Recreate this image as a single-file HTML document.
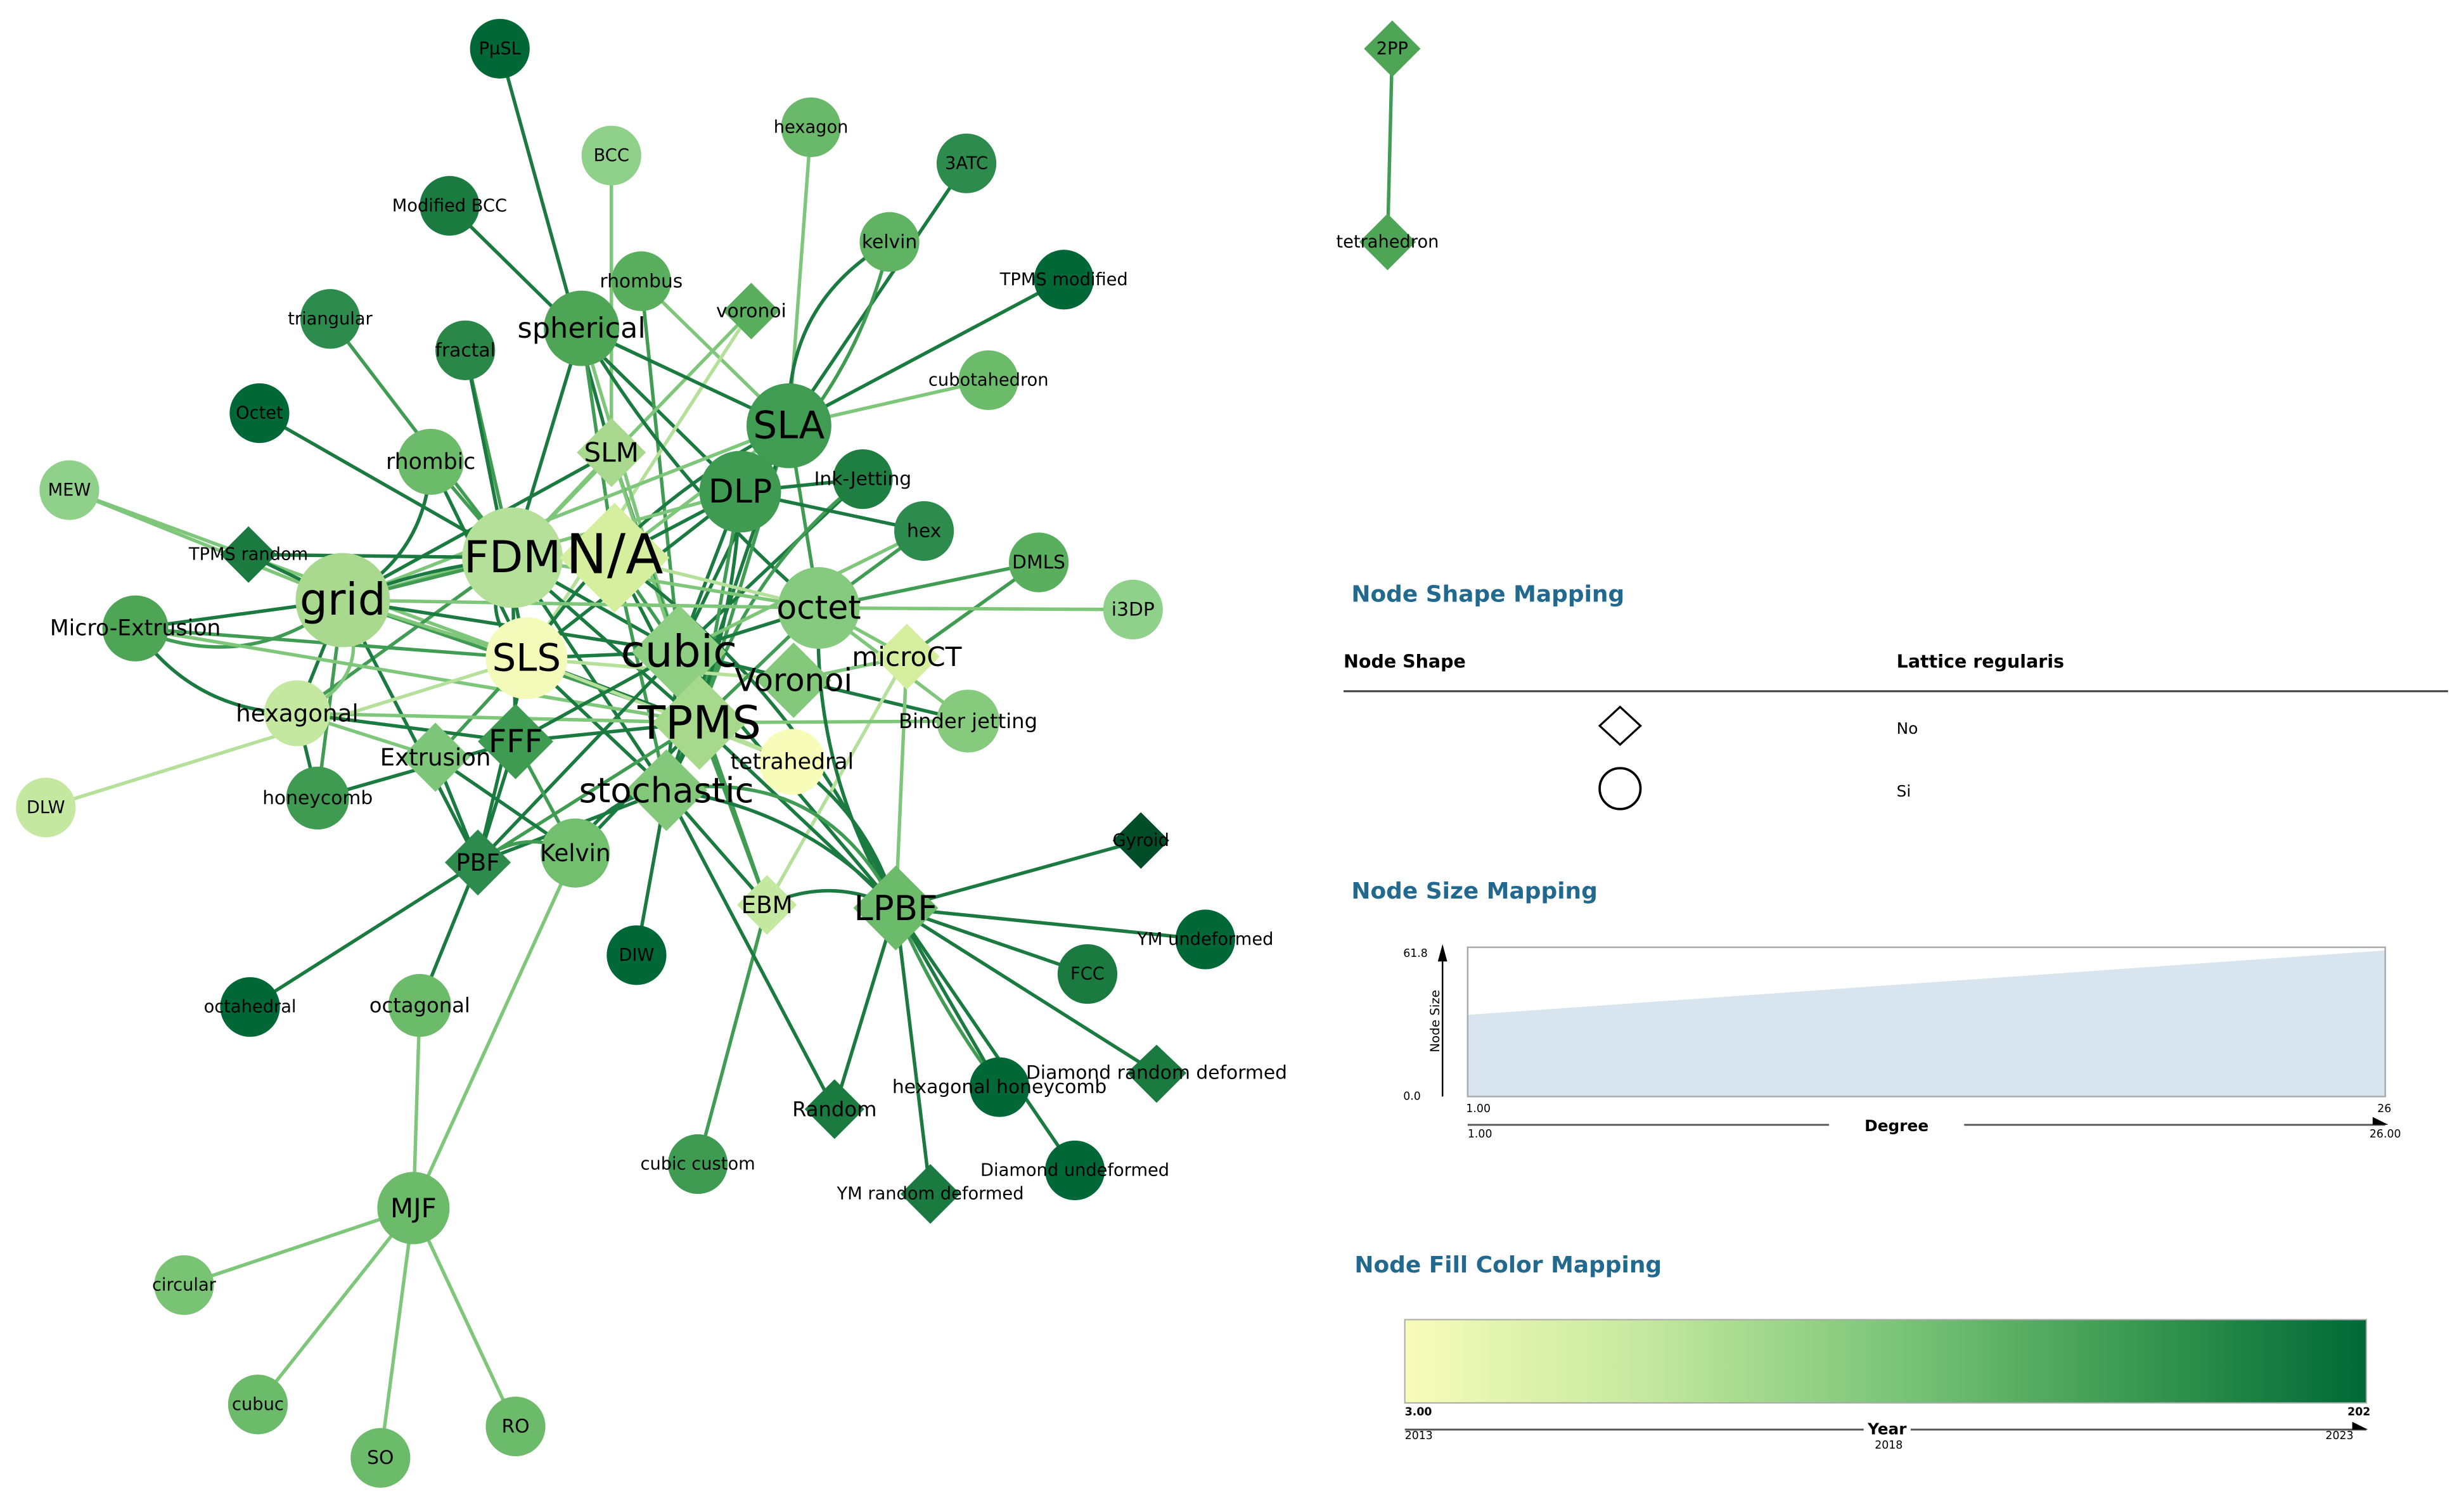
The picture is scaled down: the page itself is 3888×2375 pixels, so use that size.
<!DOCTYPE html>
<html><head><meta charset="utf-8"><style>
html,body{margin:0;padding:0;background:#fff;}
svg{display:block;}
text{font-family:"DejaVu Sans","Liberation Sans",sans-serif;}
.lg{font-family:"DejaVu Sans Condensed","DejaVu Sans","Liberation Sans",sans-serif;}
</style></head><body>
<svg id="s" xmlns="http://www.w3.org/2000/svg" width="3888" height="2375" viewBox="0 0 1568 958">
<rect width="1568" height="958" fill="#fff"/>
<g id="edges" fill="none" stroke-width="2.2" stroke-linecap="round"></g>
<g id="nodes" text-anchor="middle" dominant-baseline="central" fill="#000">
<!-- circles -->
<circle cx="318" cy="31" r="19" fill="#006837"/><text x="318" y="31" font-size="11">PμSL</text>
<circle cx="389" cy="99" r="19" fill="#8fd18a"/><text x="389" y="99" font-size="11">BCC</text>
<circle cx="516" cy="81" r="19" fill="#6ab86a"/><text x="516" y="81" font-size="11">hexagon</text>
<circle cx="615" cy="104" r="19" fill="#2e8b4e"/><text x="615" y="104" font-size="11">3ATC</text>
<circle cx="286" cy="131" r="19" fill="#1a7a40"/><text x="286" y="131" font-size="11">Modified BCC</text>
<circle cx="566" cy="154" r="19" fill="#5fb362"/><text x="566" y="154" font-size="12">kelvin</text>
<circle cx="677" cy="178" r="19" fill="#006837"/><text x="677" y="178" font-size="11">TPMS modified</text>
<circle cx="408" cy="179" r="19" fill="#5aaf5e"/><text x="408" y="179" font-size="12">rhombus</text>
<circle cx="210" cy="203" r="19" fill="#2e8b4e"/><text x="210" y="203" font-size="11">triangular</text>
<circle cx="296" cy="223" r="19" fill="#2a8748"/><text x="296" y="223" font-size="12">fractal</text>
<circle cx="629" cy="242" r="19" fill="#6cbb6a"/><text x="629" y="242" font-size="11">cubotahedron</text>
<circle cx="165" cy="263" r="19" fill="#006837"/><text x="165" y="263" font-size="11">Octet</text>
<circle cx="549" cy="305" r="19" fill="#1f7f43"/><text x="549" y="305" font-size="12">Ink-Jetting</text>
<circle cx="44" cy="312" r="19" fill="#8fd18a"/><text x="44" y="312" font-size="11">MEW</text>
<circle cx="588" cy="338" r="19" fill="#2e8b4e"/><text x="588" y="338" font-size="12">hex</text>
<circle cx="661" cy="358" r="19" fill="#5aaf5e"/><text x="661" y="358" font-size="12">DMLS</text>
<circle cx="721" cy="388" r="19" fill="#8fd18a"/><text x="721" y="388" font-size="12">i3DP</text>
<circle cx="616" cy="459" r="20" fill="#86ca7e"/><text x="616" y="459" font-size="13">Binder jetting</text>
<circle cx="29" cy="514" r="19" fill="#c5e8a0"/><text x="29" y="514" font-size="11">DLW</text>
<circle cx="202" cy="508" r="20" fill="#3e9b51"/><text x="202" y="508" font-size="12">honeycomb</text>
<circle cx="767" cy="598" r="19" fill="#006837"/><text x="767" y="598" font-size="11">YM undeformed</text>
<circle cx="405" cy="608" r="19" fill="#006837"/><text x="405" y="608" font-size="11">DIW</text>
<circle cx="692" cy="620" r="19" fill="#1a7a40"/><text x="692" y="620" font-size="11">FCC</text>
<circle cx="159" cy="641" r="19" fill="#006837"/><text x="159" y="641" font-size="11">octahedral</text>
<circle cx="267" cy="640" r="20" fill="#6cbb6a"/><text x="267" y="640" font-size="13">octagonal</text>
<circle cx="636" cy="692" r="19" fill="#006837"/>
<circle cx="444" cy="741" r="19" fill="#3e9b51"/><text x="444" y="741" font-size="11">cubic custom</text>
<circle cx="684" cy="745" r="19" fill="#006837"/><text x="684" y="745" font-size="11">Diamond undeformed</text>
<circle cx="117" cy="818" r="19" fill="#79c474"/><text x="117" y="818" font-size="11">circular</text>
<circle cx="164" cy="894" r="19" fill="#6cbb6a"/><text x="164" y="894" font-size="11">cubuc</text>
<circle cx="328" cy="908" r="19" fill="#6cbb6a"/><text x="328" y="908" font-size="12">RO</text>
<circle cx="242" cy="928" r="19" fill="#6cbb6a"/><text x="242" y="928" font-size="12">SO</text>
<!-- small diamonds -->
<polygon points="478,180 496,198 478,216 460,198" fill="#5aaf5e"/><text x="478" y="198" font-size="12">voronoi</text>
<polygon points="158,335 176,353 158,371 140,353" fill="#1a7a40"/><text x="158" y="353" font-size="11">TPMS random</text>
<polygon points="726,517 744,535 726,553 708,535" fill="#004d29"/><text x="726" y="535" font-size="11">Gyroid</text>
<polygon points="736,665 755,683 736,702 717,683" fill="#1a7a40"/><text x="736" y="683" font-size="12">Diamond random deformed</text>
<text x="636" y="692" font-size="12">hexagonal honeycomb</text>
<polygon points="531,687 550,706 531,725 512,706" fill="#1a7a40"/><text x="531" y="706" font-size="13">Random</text>
<polygon points="592,741 611,760 592,779 573,760" fill="#1a7a40"/><text x="592" y="760" font-size="11">YM random deformed</text>
<polygon points="886,13 904,31 886,49 868,31" fill="#4ea555"/><text x="886" y="31" font-size="11">2PP</text>
<polygon points="883,136 901,154 883,172 865,154" fill="#4ea555"/><text x="883" y="154" font-size="11">tetrahedron</text>
<!-- mid/large -->
<circle cx="370" cy="209" r="24" fill="#4ea555"/><text x="370" y="209" font-size="18">spherical</text>
<circle cx="274" cy="294" r="21" fill="#6cbb6a"/><text x="274" y="294" font-size="14">rhombic</text>
<circle cx="86" cy="400" r="21" fill="#4ea555"/><text x="86" y="400" font-size="14">Micro-Extrusion</text>
<circle cx="502" cy="271" r="27" fill="#3f9c52"/><text x="502" y="271" font-size="24">SLA</text>
<polygon points="389,266 411,288 389,310 367,288" fill="#a8d98e"/><text x="389" y="288" font-size="17">SLM</text>
<circle cx="471" cy="313" r="26" fill="#3e9b51"/><text x="471" y="313" font-size="21">DLP</text>
<circle cx="521" cy="387" r="26" fill="#85ca7e"/><text x="521" y="387" font-size="21">octet</text>
<circle cx="189" cy="454" r="21" fill="#c5e8a0"/><text x="189" y="454" font-size="15">hexagonal</text>
<polygon points="277,460 299,482 277,504 255,482" fill="#7ec67a"/><text x="277" y="482" font-size="15">Extrusion</text>
<polygon points="304,528 325,549 304,570 283,549" fill="#2e8b4e"/><text x="304" y="549" font-size="15">PBF</text>
<circle cx="366" cy="543" r="22" fill="#72bf6f"/><text x="366" y="543" font-size="15">Kelvin</text>
<circle cx="263" cy="769" r="23" fill="#6cbb6a"/><text x="263" y="769" font-size="17">MJF</text>
<polygon points="488,557 507,576 488,595 469,576" fill="#c5e8a0"/><text x="488" y="576" font-size="15">EBM</text>
<circle cx="218" cy="382" r="30" fill="#a8d98e"/><text x="218" y="382" font-size="28">grid</text>
<circle cx="326" cy="355" r="32" fill="#b5e09a"/>
<polygon points="391,320 426,355 391,390 356,355" fill="#d5ef9f"/>
<text x="326" y="355" font-size="28">FDM</text><text x="391" y="353" font-size="35">N/A</text>
<circle cx="335" cy="419" r="26" fill="#f3faba"/><text x="335" y="419" font-size="24">SLS</text>
<polygon points="432,385 462,415 432,445 402,415" fill="#8fcf84"/><text x="432" y="415" font-size="28">cubic</text>
<polygon points="577,397 598,418 577,439 556,418" fill="#d5ef9f"/><text x="577" y="418" font-size="17">microCT</text>
<polygon points="505,409 529,433 505,457 481,433" fill="#84c87c"/><text x="505" y="433" font-size="20">Voronoi</text>
<polygon points="328,448 352,472 328,496 304,472" fill="#3e9b51"/><text x="328" y="472" font-size="20">FFF</text>
<polygon points="445,430 475,460 445,490 415,460" fill="#a6d98c"/>
<circle cx="504" cy="485" r="21" fill="#f7fcb9"/><text x="504" y="485" font-size="14">tetrahedral</text>
<text x="445" y="460" font-size="29">TPMS</text>
<polygon points="424,477 450,503 424,529 398,503" fill="#84c87c"/><text x="424" y="503" font-size="22">stochastic</text>
<polygon points="570,551 597,578 570,605 543,578" fill="#6cbb6a"/><text x="570" y="578" font-size="22">LPBF</text>
</g>
<!-- Legends -->
<g class="lg">
<text x="860" y="383" font-size="14.5" font-weight="bold" fill="#21698f">Node Shape Mapping</text>
<text x="855" y="425" font-size="11.5" font-weight="bold">Node Shape</text>
<text x="1207" y="425" font-size="11.5" font-weight="bold">Lattice regularis</text>
<line x1="855" y1="440" x2="1558" y2="440" stroke="#444" stroke-width="1.3"/>
<polygon points="1031,450 1044,462 1031,474 1018,462" fill="none" stroke="#000" stroke-width="1.3"/>
<text x="1207" y="467" font-size="10">No</text>
<circle cx="1031" cy="502" r="13" fill="none" stroke="#000" stroke-width="1.5"/>
<text x="1207" y="507" font-size="10">Si</text>
<text x="860" y="572" font-size="14.5" font-weight="bold" fill="#21698f">Node Size Mapping</text>
<polygon points="934,646 1518,605 1518,698 934,698" fill="#d9e5ee"/>
<rect x="934" y="603" width="584" height="95" fill="none" stroke="#aaa" stroke-width="1"/>
<line x1="918" y1="610" x2="918" y2="698" stroke="#000" stroke-width="1"/>
<polygon points="915,612 918,601 921,612" fill="#000"/>
<text x="893" y="609" font-size="7">61.8</text>
<text x="893" y="700" font-size="7">0.0</text>
<text x="0" y="0" font-size="8" transform="translate(916,650) rotate(-90)" text-anchor="middle">Node Size</text>
<text x="933" y="708" font-size="7">1.00</text>
<text x="1513" y="708" font-size="7">26</text>
<line x1="934" y1="716" x2="1164" y2="716" stroke="#555" stroke-width="1.2"/>
<line x1="1250" y1="716" x2="1518" y2="716" stroke="#555" stroke-width="1.2"/>
<polygon points="1510,711 1520,716 1510,716" fill="#000"/>
<text x="1207" y="720" font-size="10" font-weight="bold" text-anchor="middle">Degree</text>
<text x="934" y="724" font-size="7">1.00</text>
<text x="1508" y="724" font-size="7">26.00</text>
<text x="862" y="810" font-size="14.5" font-weight="bold" fill="#21698f">Node Fill Color Mapping</text>
<defs><linearGradient id="g" x1="0" x2="1" y1="0" y2="0">
<stop offset="0" stop-color="#f7fcb9"/><stop offset="0.25" stop-color="#c5e8a0"/><stop offset="0.5" stop-color="#7ec67a"/><stop offset="0.75" stop-color="#3c9a52"/><stop offset="1" stop-color="#006837"/></linearGradient></defs>
<rect x="894" y="840" width="612" height="53" fill="url(#g)" stroke="#aaa" stroke-width="0.8"/>
<text x="894" y="901" font-size="7" font-weight="bold">3.00</text>
<text x="1494" y="901" font-size="7" font-weight="bold">202</text>
<line x1="894" y1="910" x2="1186" y2="910" stroke="#555" stroke-width="1.2"/>
<line x1="1216" y1="910" x2="1506" y2="910" stroke="#555" stroke-width="1.2"/>
<polygon points="1497,905 1507,910 1497,910" fill="#000"/>
<text x="1201" y="913" font-size="10" font-weight="bold" text-anchor="middle">Year</text>
<text x="894" y="916" font-size="7">2013</text>
<text x="1202" y="922" font-size="7" text-anchor="middle">2018</text>
<text x="1480" y="916" font-size="7">2023</text>
</g>
</svg>
<script>
var P={PmSL:[318,31],BCC:[389,99],hexagon:[516,81],ATC:[615,104],MBCC:[286,131],kelvin:[566,154],TM:[677,178],rhombus:[408,179],voronoi:[478,198],triangular:[210,203],fractal:[296,223],spherical:[370,209],cubo:[629,242],Octet:[165,263],SLA:[502,271],SLM:[389,288],rhombic:[274,294],Ink:[549,305],DLP:[471,313],MEW:[44,312],hex:[588,338],TR:[158,353],FDM:[326,355],NA:[391,355],DMLS:[661,358],grid:[218,382],octet:[521,387],i3DP:[721,388],ME:[86,400],SLS:[335,419],cubic:[432,415],microCT:[577,418],Voronoi:[505,433],hexagonal:[189,454],BJ:[616,459],TPMS:[445,460],tetra:[504,485],Extr:[277,482],FFF:[328,472],DLW:[29,514],honey:[202,508],stoch:[424,503],gyroid:[726,535],PBF:[304,549],Kelvin:[366,543],EBM:[488,576],LPBF:[570,578],YMU:[767,598],DIW:[405,608],FCC:[692,620],octa:[159,641],octag:[267,640],DRD:[736,683],HH:[636,692],Random:[531,706],CC:[444,741],DU:[684,745],YMR:[592,760],MJF:[263,769],circ:[117,818],cubuc:[164,894],RO:[328,908],SO:[242,928],PP:[886,31],tetron:[883,154]};
var D="#1a7a40",M="#3f9c52",L="#7ec67a",Y="#b5e09a";
var E=[["PmSL","SLM",D,0],["BCC","SLM",L,0],["hexagon","SLA",L,0],["ATC","SLA",D,0],["MBCC","DLP",D,0],["kelvin","SLA",D,40],["kelvin","DLP",M,-30],["TM","SLA",D,0],["rhombus","SLA",L,0],["rhombus","cubic",M,0],["voronoi","FDM",L,0],["voronoi","SLS",Y,0],["triangular","FDM",M,0],["fractal","FDM",M,0],["fractal","SLS",D,0],["spherical","SLA",D,0],["spherical","FDM",D,0],["spherical","NA",M,0],["spherical","octet",D,20],["spherical","TPMS",L,0],["cubo","SLA",L,0],["Octet","FDM",D,0],["SLA","DLP",D,0],["SLA","NA",L,0],["SLA","cubic",D,0],["SLA","TPMS",M,0],["SLA","stoch",D,0],["SLA","grid",L,0],["SLA","octet",M,0],["SLA","SLS",D,30],["SLM","cubic",M,0],["SLM","TPMS",L,0],["SLM","FDM",L,0],["SLM","grid",D,0],["rhombic","FDM",M,0],["rhombic","SLS",D,0],["rhombic","grid",D,-30],["Ink","DLP",D,0],["Ink","cubic",D,0],["Ink","TPMS",M,30],["DLP","cubic",D,0],["DLP","TPMS",M,0],["DLP","NA",D,0],["DLP","grid",L,0],["DLP","SLS",D,0],["DLP","stoch",D,-20],["MEW","grid",L,0],["MEW","SLS",L,0],["hex","DLP",D,0],["hex","octet",M,0],["hex","cubic",L,0],["TR","grid",D,0],["TR","FDM",D,0],["FDM","grid",M,0],["FDM","cubic",D,0],["FDM","TPMS",D,0],["FDM","NA",L,0],["FDM","stoch",D,0],["FDM","hexagonal",M,0],["FDM","FFF",D,0],["FDM","SLS",D,30],["FDM","octet",L,0],["NA","cubic",M,0],["NA","TPMS",D,0],["NA","grid",D,20],["NA","octet",Y,0],["NA","LPBF",D,-40],["NA","stoch",M,0],["DMLS","octet",M,0],["DMLS","microCT",M,0],["i3DP","octet",L,0],["grid","ME",D,0],["grid","cubic",D,0],["grid","TPMS",M,0],["grid","SLS",L,0],["grid","hexagonal",D,0],["grid","honey",M,0],["grid","PBF",D,0],["grid","octet",L,0],["grid","ME",M,-40],["ME","SLS",M,0],["ME","hexagonal",D,30],["ME","TPMS",L,0],["SLS","cubic",D,0],["SLS","TPMS",D,0],["SLS","Voronoi",Y,0],["SLS","Extr",M,0],["SLS","stoch",D,0],["SLS","tetra",Y,0],["SLS","PBF",D,0],["cubic","TPMS",D,0],["cubic","LPBF",D,0],["cubic","Voronoi",M,0],["cubic","stoch",D,0],["cubic","PBF",D,0],["cubic","EBM",M,0],["cubic","octet",D,0],["cubic","BJ",D,0],["microCT","LPBF",L,0],["microCT","EBM",Y,0],["microCT","Voronoi",L,0],["microCT","octet",L,0],["BJ","octet",L,0],["BJ","TPMS",L,0],["TPMS","LPBF",D,0],["TPMS","EBM",M,0],["TPMS","stoch",D,0],["TPMS","tetra",Y,0],["TPMS","Kelvin",D,0],["TPMS","PBF",M,0],["TPMS","FFF",D,0],["TPMS","octet",M,0],["TPMS","hexagonal",L,0],["DLW","SLS",Y,0],["honey","FFF",D,0],["Extr","PBF",D,0],["Extr","Kelvin",D,0],["Extr","hexagonal",L,0],["FFF","PBF",D,0],["FFF","cubic",D,0],["FFF","Kelvin",M,0],["FFF","hexagonal",D,0],["stoch","LPBF",D,-30],["stoch","DIW",D,0],["stoch","Kelvin",D,20],["stoch","EBM",D,0],["stoch","PBF",D,0],["gyroid","LPBF",D,0],["PBF","octa",D,0],["PBF","octag",D,0],["PBF","Kelvin",M,-20],["Kelvin","MJF",L,0],["EBM","CC",M,0],["EBM","LPBF",D,-20],["LPBF","YMU",D,0],["LPBF","FCC",D,0],["LPBF","DRD",D,0],["LPBF","HH",D,0],["LPBF","HH",M,8],["LPBF","Random",D,0],["LPBF","DU",D,0],["LPBF","YMR",D,0],["LPBF","tetra",D,20],["LPBF","octet",D,-30],["LPBF","stoch",M,60],["Random","stoch",D,0],["MJF","octag",L,0],["MJF","circ",L,0],["MJF","cubuc",L,0],["MJF","RO",L,0],["MJF","SO",L,0],["PP","tetron",M,0],["hexagonal","grid",L,40],["honey","hexagonal",D,0]];
var g=document.getElementById("edges"),h="";
E.forEach(function(e){var a=P[e[0]],b=P[e[1]];if(!a||!b)return;var c=e[3];
var mx=(a[0]+b[0])/2,my=(a[1]+b[1])/2,dx=b[0]-a[0],dy=b[1]-a[1],l=Math.sqrt(dx*dx+dy*dy)||1;
var cx=mx-dy/l*c,cy=my+dx/l*c;
h+='<path d="M'+a[0]+','+a[1]+' Q'+cx+','+cy+' '+b[0]+','+b[1]+'" stroke="'+e[2]+'"/>';});
g.innerHTML=h;
</script>
</body></html>
